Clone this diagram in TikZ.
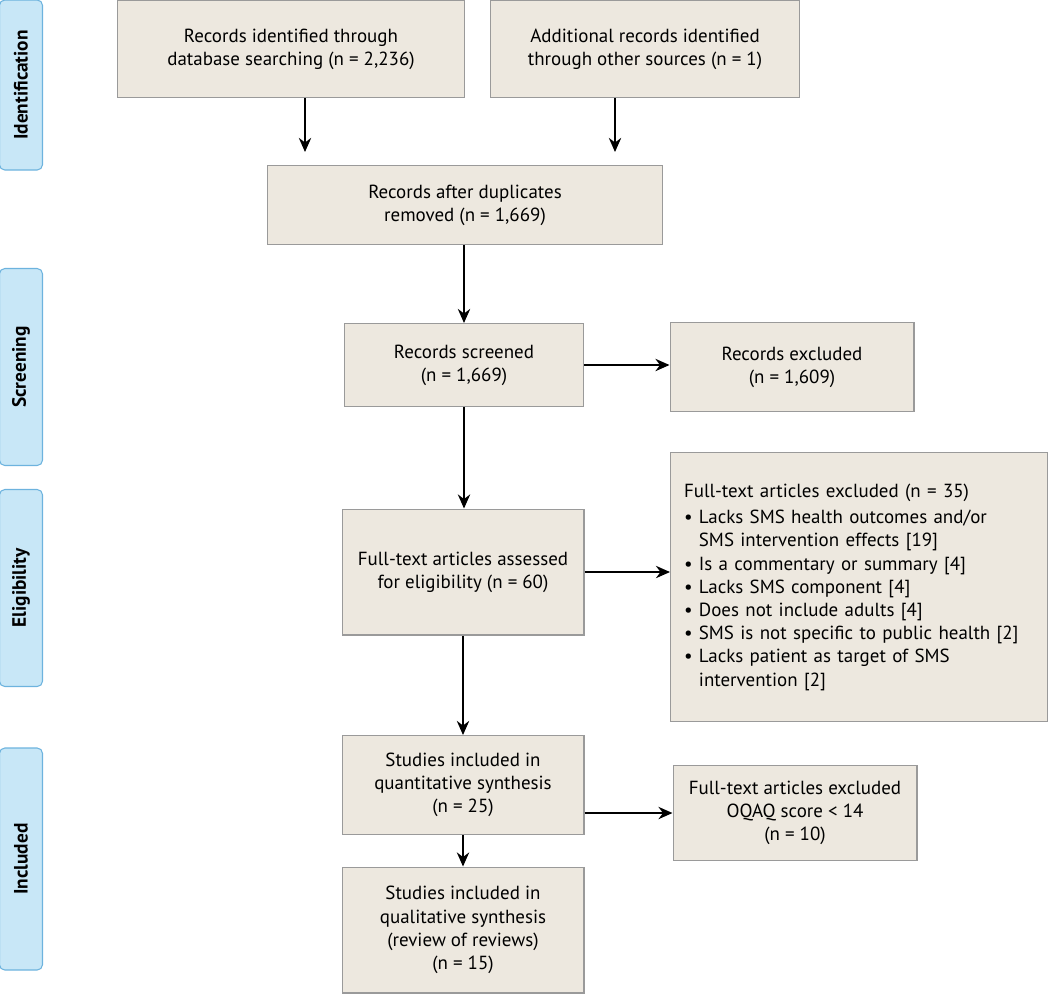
\documentclass[tikz,border=0pt]{standalone}
\usepackage{fontspec}
\setmainfont{PT Sans}
\usetikzlibrary{arrows.meta}
\definecolor{boxfill}{HTML}{EDE8DF}
\definecolor{boxline}{HTML}{9A9A9A}
\definecolor{sidefill}{HTML}{C8E7F7}
\definecolor{sideline}{HTML}{6DB3DE}
\begin{document}
\begin{tikzpicture}[x=0.02cm,y=-0.02cm,
 box/.style={draw=boxline,fill=boxfill,line width=0.6pt,align=center,font=\fontsize{10.8}{13.2}\selectfont,inner sep=2pt},
 side/.style={draw=sideline,fill=sidefill,line width=0.6pt,rounded corners=3pt,font=\bfseries\fontsize{11}{13}\selectfont,rotate=90},
 arr/.style={-{Stealth[length=8pt,width=7pt]},line width=1.2pt}]
\useasboundingbox (0,0) rectangle (1050,995);
\newcommand{\bx}[6]{\node[box,minimum width=#4*0.02cm-0.6pt,minimum height=#5*0.02cm-0.6pt] (#1) at (#2,#3) {#6};}
\bx{A}{291}{49}{348}{98}{Records identified through\\database searching (n = 2,236)}
\bx{B}{645}{49}{310}{98}{Additional records identified\\through other sources (n = 1)}
\bx{C}{465}{205}{396}{80}{Records after duplicates\\removed (n = 1,669)}
\bx{D}{464}{365}{240}{84}{Records screened\\(n = 1,669)}
\bx{E}{792}{367}{245}{90}{Records excluded\\(n = 1,609)}
\bx{F}{463}{572}{243}{127}{Full-text articles assessed\\for eligibility (n = 60)}
\node[box,minimum width=378*0.02cm-0.6pt,minimum height=270*0.02cm-0.6pt,align=left,text width=350*0.02cm] (G) at (859,587) {Full-text articles excluded (n = 35)\\[2pt]
\textbullet\ Lacks SMS health outcomes and/or\\
\hphantom{\textbullet\ }SMS intervention effects [19]\\
\textbullet\ Is a commentary or summary [4]\\
\textbullet\ Lacks SMS component [4]\\
\textbullet\ Does not include adults [4]\\
\textbullet\ SMS is not specific to public health [2]\\
\textbullet\ Lacks patient as target of SMS\\
\hphantom{\textbullet\ }intervention [2]};
\bx{H}{463}{785}{243}{100}{Studies included in\\quantitative synthesis\\(n = 25)}
\bx{I}{795}{813}{245}{96}{Full-text articles excluded\\OQAQ score {\textless} 14\\(n = 10)}
\bx{J}{463}{930}{243}{127}{Studies included in\\qualitative synthesis\\(review of reviews)\\(n = 15)}
\node[side,minimum width=170*0.02cm,minimum height=43*0.02cm] (s1) at (21,85) {Identification};
\node[side,minimum width=197*0.02cm,minimum height=43*0.02cm] (s2) at (21,367) {Screening};
\node[side,minimum width=197*0.02cm,minimum height=43*0.02cm] (s3) at (21,588) {Eligibility};
\node[side,minimum width=222*0.02cm,minimum height=43*0.02cm] (s4) at (21,859) {Included};
\coordinate (a1) at (305,152); \coordinate (b1) at (615,152);
\draw[arr] (A.south -| a1) -- (a1);
\draw[arr] (B.south -| b1) -- (b1);
\draw[arr] (C.south -| D) -- (D.north);
\draw[arr] (D.east) -- (E.west |- D.east);
\draw[arr] (D.south) -- (F.north -| D.south);
\draw[arr] (F.east) -- (G.west |- F.east);
\draw[arr] (F.south) -- (H.north);
\draw[arr] (H.east |- I.west) -- (I.west);
\draw[arr] (H.south) -- (J.north);
\end{tikzpicture}
\end{document}
